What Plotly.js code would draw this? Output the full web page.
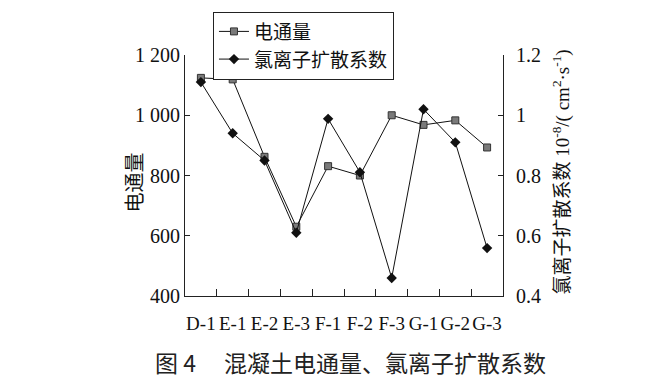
<!DOCTYPE html>
<html>
<head>
<meta charset="utf-8">
<script src="https://cdn.plot.ly/plotly-3.0.1.min.js"></script>
<style>html,body{margin:0;padding:0;background:#fff;}#chart{width:668px;height:383px;}</style>
</head>
<body>
<div id="chart"></div>
<script>
const categories = ["D-1", "E-1", "E-2", "E-3", "F-1", "F-2", "F-3", "G-1", "G-2", "G-3"];
const electricFlux = [1124, 1119, 862, 630, 831, 800, 1000, 968, 983, 893];
const chlorideDiffusion = [1.11, 0.94, 0.85, 0.61, 0.988, 0.811, 0.46, 1.02, 0.91, 0.559];
const leftTickVals = [400, 600, 800, 1000, 1200];
const leftTickText = ["400", "600", "800", "1 000", "1 200"];
const rightTickVals = [0.4, 0.6, 0.8, 1.0, 1.2];
const rightTickText = ["0.4", "0.6", "0.8", "1", "1.2"];
const seriesNames = ["电通量", "氯离子扩散系数"];
const leftTitle = "电通量";
const rightTitle = "氯离子扩散系数 10<sup>-8</sup>/( cm<sup>2</sup>·s<sup>-1</sup>)";
const caption = "图 4　 混凝土电通量、氯离子扩散系数";

const serif = "Liberation Serif, Times New Roman, Noto Sans CJK SC, serif";

const traces = [
  {
    x: categories, y: electricFlux, name: seriesNames[0], type: "scatter", mode: "lines+markers",
    line: {color: "#111", width: 1},
    marker: {symbol: "square", size: 7, color: "#7a7a7a", line: {color: "#333", width: 1}},
    yaxis: "y"
  },
  {
    x: categories, y: chlorideDiffusion, name: seriesNames[1], type: "scatter", mode: "lines+markers",
    line: {color: "#111", width: 1},
    marker: {symbol: "diamond", size: 8, color: "#111"},
    yaxis: "y2"
  }
];

const layout = {
  width: 668, height: 383,
  margin: {l: 185, r: 165, t: 52, b: 87},
  paper_bgcolor: "#fff", plot_bgcolor: "#fff",
  font: {family: serif, size: 20, color: "#111"},
  showlegend: true,
  legend: {
    x: 0.088, y: (296 - 8) / 244, xanchor: "left", yanchor: "top",
    bgcolor: "#fff", bordercolor: "#222", borderwidth: 1,
    font: {family: serif, size: 19, color: "#111"},
    tracegroupgap: 0, itemwidth: 30
  },
  xaxis: {
    type: "category", range: [-0.5, 9.5], dtick: 1, tickangle: 0,
    showline: true, linecolor: "#222", linewidth: 1,
    ticks: "inside", ticklen: 7, tickcolor: "#222", tickson: "boundaries",
    showgrid: false, zeroline: false,
    tickfont: {family: serif, size: 19, color: "#111"},
    ticklabelstandoff: 10
  },
  yaxis: {
    range: [400, 1200], tickvals: leftTickVals, ticktext: leftTickText,
    showline: true, linecolor: "#222", linewidth: 1,
    ticks: "inside", ticklen: 5, tickcolor: "#222",
    showgrid: false, zeroline: false,
    tickfont: {family: serif, size: 20, color: "#111"}
  },
  yaxis2: {
    range: [0.4, 1.2], tickvals: rightTickVals, ticktext: rightTickText,
    overlaying: "y", side: "right",
    showline: true, linecolor: "#222", linewidth: 1,
    ticks: "inside", ticklen: 5, tickcolor: "#222",
    showgrid: false, zeroline: false,
    tickfont: {family: serif, size: 20, color: "#111"},
    ticklabelstandoff: 8
  },
  annotations: [
    {text: leftTitle, xref: "paper", yref: "paper", x: (135 - 185) / 318, y: (296 - 181) / 244,
     xanchor: "center", yanchor: "middle", textangle: -90, showarrow: false,
     font: {family: serif, size: 20, color: "#111"}},
    {text: rightTitle, xref: "paper", yref: "paper", x: (562 - 185) / 318, y: (296 - 171) / 244,
     xanchor: "center", yanchor: "middle", textangle: -90, showarrow: false,
     font: {family: serif, size: 19, color: "#111"}},
    {text: caption, xref: "paper", yref: "paper", x: (350 - 185) / 318, y: (296 - 363) / 244,
     xanchor: "center", yanchor: "middle", showarrow: false,
     font: {family: "Noto Sans CJK SC, sans-serif", size: 23, color: "#222", weight: 400}}
  ]
};

Plotly.newPlot("chart", traces, layout, {displayModeBar: false, staticPlot: true});
</script>
</body>
</html>
